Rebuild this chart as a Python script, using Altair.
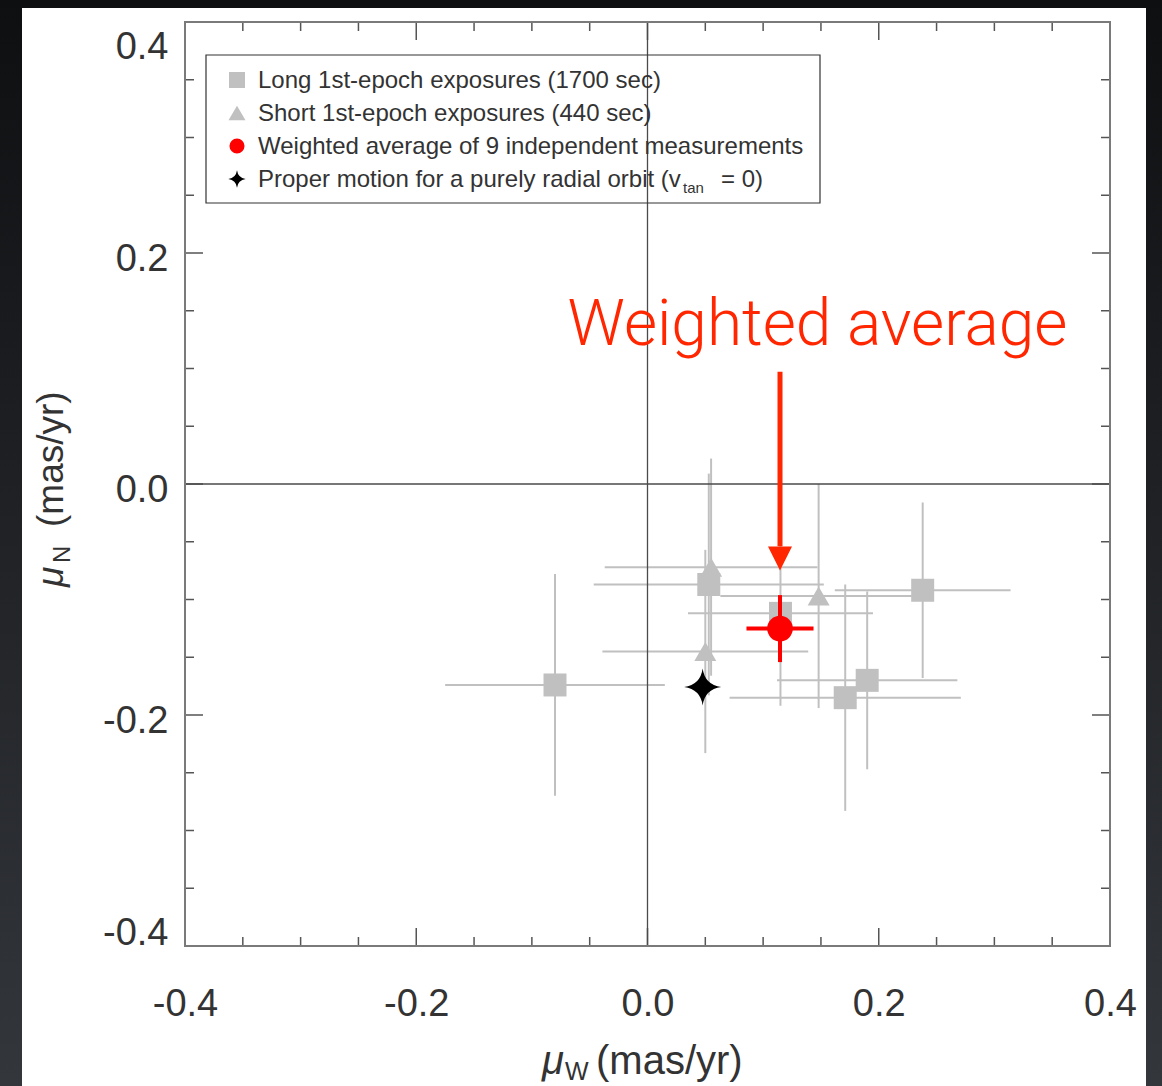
import altair as alt
import pandas as pd

# ---------------- data ----------------
long_x = [-0.080, 0.053, 0.115, 0.190, 0.238, 0.171]
long_y = [-0.174, -0.087, -0.112, -0.170, -0.092, -0.185]
long_xerr = [0.095, 0.0995, 0.080, 0.078, 0.076, 0.100]
long_yerr = [0.096, 0.096, 0.080, 0.077, 0.076, 0.098]

short_x = [0.055, 0.050, 0.148]
short_y = [-0.072, -0.145, -0.097]
short_xerr = [0.092, 0.089, 0.085]
short_yerr = [0.094, 0.088, 0.097]

avg_x = [0.1146]
avg_y = [-0.1252]
avg_xerr = [0.029]
avg_yerr = [0.029]

radial_x = [0.0477]
radial_y = [-0.1757]

# annotation (data coordinates)
arrow_x = [0.1146]
arrow_top = [0.0972]
arrow_head_top = [-0.0540]
arrow_head_mid = [-0.0644]
note_text = ["Weighted average"]
note_x = [-0.0692]
note_y = [0.1201]

major_ticks = [-0.4, -0.2, 0.0, 0.2, 0.4]
minor_ticks = [-0.35, -0.3, -0.25, -0.15, -0.1, -0.05, 0.05, 0.1, 0.15, 0.25, 0.3, 0.35]

legend_labels = [
    "Long 1st-epoch exposures (1700 sec)",
    "Short 1st-epoch exposures (440 sec)",
    "Weighted average of 9 independent measurements",
    "Proper motion for a purely radial orbit (v",
]

# ---------------- layout constants ----------------
W, H = 925, 924
PAD_L, PAD_T, PAD_R, PAD_B = 185, 22, 52, 140
FONT = "Liberation Sans"
GRAY = "#c0c0c0"
RED = "#ff0000"
NOTE_RED = "#ff2600"
STAR = "M0,-1 Q0.12,-0.12 1,0 Q0.12,0.12 0,1 Q-0.12,0.12 -1,0 Q-0.12,-0.12 0,-1 Z"
HEAD = "M-1,-1 L1,-1 L0,1 Z"
HYPHEN_EXPR = "replace(datum.label, '\u2212', '-')"

xs = alt.Scale(domain=[-0.4, 0.4], nice=False, zero=False)
ys = alt.Scale(domain=[-0.4, 0.4], nice=False, zero=False)

xaxis = alt.Axis(title=None, values=major_ticks, format=".1f", labelExpr=HYPHEN_EXPR,
                 ticks=False, tickSize=0, domain=False, grid=False, labelFont=FONT,
                 labelFontSize=38, labelColor="#333333", labelPadding=39, labelFlush=False,
                 zindex=2)
yaxis = alt.Axis(title=None, values=major_ticks, format=".1f", labelExpr=HYPHEN_EXPR,
                 ticks=False, tickSize=0, domain=False, grid=False, labelFont=FONT,
                 labelFontSize=38, labelColor="#333333", labelPadding=17, labelFlush=True,
                 labelOffset=6, zindex=2)


def X(f):
    return alt.X(f, type="quantitative", scale=xs, axis=xaxis)


def Y(f):
    return alt.Y(f, type="quantitative", scale=ys, axis=yaxis)


def PX(f):
    return alt.X(f, type="quantitative", scale=None, axis=None)


def PY(f):
    return alt.Y(f, type="quantitative", scale=None, axis=None)


one = pd.DataFrame({"k": [0]})

# background gradient and white panel
bg = alt.Chart(one).mark_rect(color={
    "gradient": "linear", "x1": 0, "x2": 0, "y1": 0, "y2": 1,
    "stops": [{"offset": 0, "color": "#0e0f11"}, {"offset": 1, "color": "#33363b"}]
}).encode(x=alt.value(-PAD_L), x2=alt.value(W + PAD_R), y=alt.value(-PAD_T), y2=alt.value(H + PAD_B))

panel = alt.Chart(one).mark_rect(color="white").encode(
    x=alt.value(22 - PAD_L), x2=alt.value(1146 - PAD_L), y=alt.value(8 - PAD_T), y2=alt.value(H + PAD_B)
)

frame = alt.Chart(one).mark_rect(fill=None, stroke="#7a7a7a", strokeWidth=2).encode(
    x=alt.value(0), x2=alt.value(W), y=alt.value(0), y2=alt.value(H)
)

# data frames
def err_df(xv, yv, xe, ye):
    return pd.DataFrame({
        "x": xv, "y": yv,
        "xlo": [a - e for a, e in zip(xv, xe)], "xhi": [a + e for a, e in zip(xv, xe)],
        "ylo": [a - e for a, e in zip(yv, ye)], "yhi": [a + e for a, e in zip(yv, ye)],
    })

long_df = err_df(long_x, long_y, long_xerr, long_yerr)
short_df = err_df(short_x, short_y, short_xerr, short_yerr)
avg_df = err_df(avg_x, avg_y, avg_xerr, avg_yerr)
rad_df = pd.DataFrame({"x": radial_x, "y": radial_y})
gray_df = pd.concat([long_df, short_df], ignore_index=True)

hbars = alt.Chart(gray_df).mark_rule(color=GRAY, strokeWidth=2).encode(x=X("xlo"), x2="xhi", y=Y("y"))
vbars = alt.Chart(gray_df).mark_rule(color=GRAY, strokeWidth=2).encode(x=X("x"), y=Y("ylo"), y2="yhi")

# zero lines
zx = alt.Chart(one).mark_rule(color="#4a4a4a", strokeWidth=1.3).encode(x=alt.datum(0.0, scale=xs, axis=xaxis))
zy = alt.Chart(one).mark_rule(color="#4a4a4a", strokeWidth=1.3).encode(y=alt.datum(0.0, scale=ys, axis=yaxis))

# inward ticks
maj = pd.DataFrame({"v": major_ticks})
mnr = pd.DataFrame({"v": minor_ticks})
TC = "#555555"
ticks = []
for df, L in ((maj, 18), (mnr, 9)):
    ticks.append(alt.Chart(df).mark_rule(color=TC, strokeWidth=1.5).encode(x=X("v"), y=alt.value(H), y2=alt.value(H - L)))
    ticks.append(alt.Chart(df).mark_rule(color=TC, strokeWidth=1.5).encode(x=X("v"), y=alt.value(0), y2=alt.value(L)))
    ticks.append(alt.Chart(df).mark_rule(color=TC, strokeWidth=1.5).encode(y=Y("v"), x=alt.value(0), x2=alt.value(L)))
    ticks.append(alt.Chart(df).mark_rule(color=TC, strokeWidth=1.5).encode(y=Y("v"), x=alt.value(W), x2=alt.value(W - L)))

squares = alt.Chart(long_df).mark_point(shape="square", filled=True, color=GRAY, opacity=1, size=529).encode(x=X("x"), y=Y("y"))
tris = alt.Chart(short_df).mark_point(shape="triangle-up", filled=True, color=GRAY, opacity=1, size=484).encode(x=X("x"), y=Y("y"))

avg_h = alt.Chart(avg_df).mark_rule(color=RED, strokeWidth=4).encode(x=X("xlo"), x2="xhi", y=Y("y"))
avg_v = alt.Chart(avg_df).mark_rule(color=RED, strokeWidth=4).encode(x=X("x"), y=Y("ylo"), y2="yhi")
avg_pt = alt.Chart(avg_df).mark_point(shape="circle", filled=True, color=RED, opacity=1, size=660).encode(x=X("x"), y=Y("y"))
star = alt.Chart(rad_df).mark_point(shape=STAR, filled=True, color="black", opacity=1, size=1369).encode(x=X("x"), y=Y("y"))

# annotation
arr_df = pd.DataFrame({"x": arrow_x, "y1": arrow_top, "y2": arrow_head_top, "ym": arrow_head_mid})
shaft = alt.Chart(arr_df).mark_rule(color=NOTE_RED, strokeWidth=5).encode(x=X("x"), y=Y("y1"), y2="y2")
head = alt.Chart(arr_df).mark_point(shape=HEAD, filled=True, color=NOTE_RED, opacity=1, size=576).encode(x=X("x"), y=Y("ym"))
note = alt.Chart(pd.DataFrame({"t": note_text, "x": note_x, "y": note_y})).mark_text(
    font="Roboto", fontWeight=300, fontSize=64, color=NOTE_RED, align="left", baseline="alphabetic"
).encode(x=X("x"), y=Y("y"), text="t:N")

# legend
LX0, LY0 = 206 - PAD_L, 55 - PAD_T
LX1, LY1 = 820 - PAD_L, 203 - PAD_T
row0, rowstep = LY0 + 25, 33
rows = [row0 + i * rowstep for i in range(4)]
sym_x = LX0 + 31
txt_x = LX0 + 52

leg_box = alt.Chart(one).mark_rect(fill=None, stroke="#333333", strokeWidth=1.2).encode(
    x=alt.value(LX0), x2=alt.value(LX1), y=alt.value(LY0), y2=alt.value(LY1))

leg_txt = alt.Chart(pd.DataFrame({"t": legend_labels, "px": [txt_x] * 4, "py": [r + 1 for r in rows]})).mark_text(
    font=FONT, fontSize=24, color="#333333", align="left", baseline="middle"
).encode(x=PX("px"), y=PY("py"), text="t:N")

leg_sub = alt.Chart(pd.DataFrame({"t": ["tan"], "px": [498], "py": [rows[3] + 14]})).mark_text(
    font=FONT, fontSize=15, color="#333333", align="left", baseline="alphabetic"
).encode(x=PX("px"), y=PY("py"), text="t:N")
leg_end = alt.Chart(pd.DataFrame({"t": ["= 0)"], "px": [536], "py": [rows[3] + 1]})).mark_text(
    font=FONT, fontSize=24, color="#333333", align="left", baseline="middle"
).encode(x=PX("px"), y=PY("py"), text="t:N")

def leg_sym(i, shape, color, size):
    return alt.Chart(pd.DataFrame({"px": [sym_x], "py": [rows[i]]})).mark_point(
        shape=shape, filled=True, color=color, opacity=1, size=size).encode(x=PX("px"), y=PY("py"))

leg_syms = [leg_sym(0, "square", GRAY, 256), leg_sym(1, "triangle-up", GRAY, 289),
            leg_sym(2, "circle", RED, 227), leg_sym(3, STAR, "black", 300)]

# axis titles
def txt(t, px, py, size, style="normal", angle=0):
    kw = dict(font=FONT, fontSize=size, color="#333333", align="left", baseline="alphabetic", fontStyle=style)
    if angle:
        kw["angle"] = angle
    return alt.Chart(pd.DataFrame({"t": [t], "px": [px], "py": [py]})).mark_text(**kw).encode(
        x=PX("px"), y=PY("py"), text="t:N")

xt = [txt("\u03bc", 357, 1052, 40, "italic"), txt("W", 380, 1058, 25), txt("(mas/yr)", 411, 1052, 40)]
yt = [txt("\u03bc", -122, 565, 37, "italic", 270), txt("N", -115, 541, 24, angle=270),
      txt("(mas/yr)", -122, 505, 37, angle=270)]

chart = alt.layer(
    bg, panel, hbars, vbars, *ticks, zx, zy, frame, squares, tris, avg_h, avg_v, avg_pt, star,
    shaft, head, note, leg_box, leg_txt, leg_sub, leg_end, *leg_syms, *xt, *yt
).properties(
    width=W, height=H,
    padding={"left": PAD_L, "top": PAD_T, "right": PAD_R, "bottom": PAD_B},
    autosize=alt.AutoSizeParams(type="none"),
    background="#1b1c1f",
).configure_view(stroke=None)

chart.save("out.html", embed_options={"renderer": "svg", "actions": False})
